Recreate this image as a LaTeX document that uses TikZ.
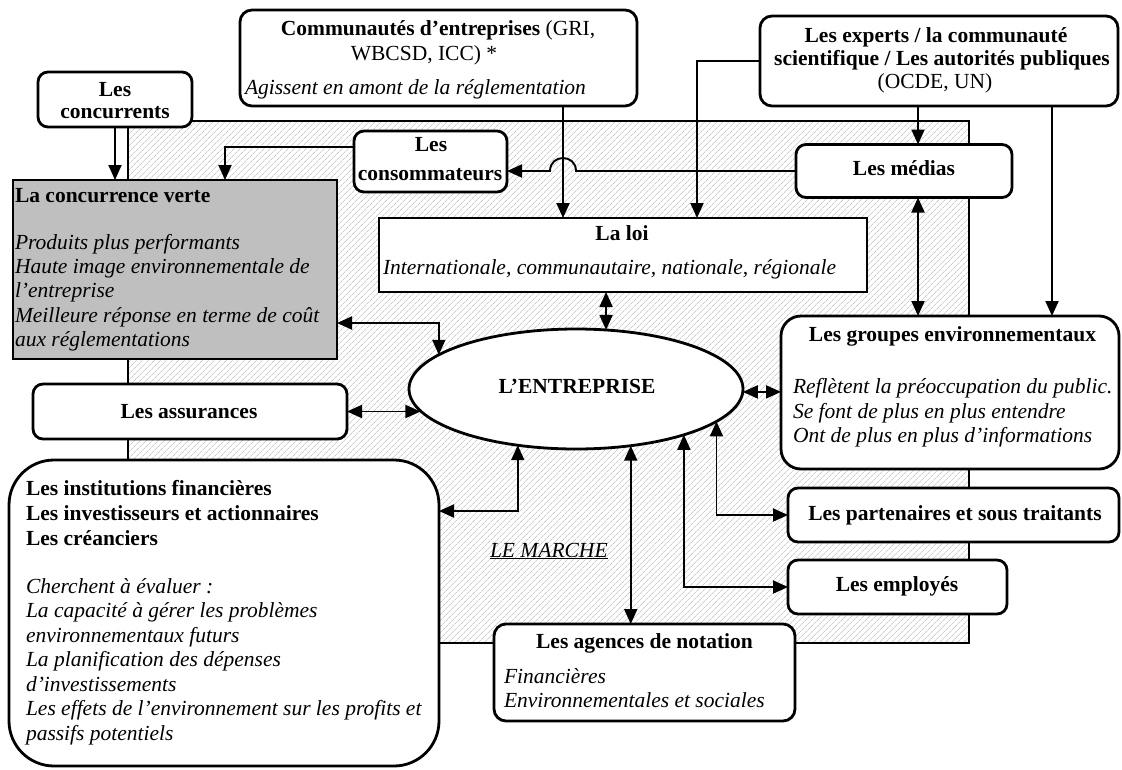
\documentclass[tikz,border=0pt]{standalone}
\usepackage{fontspec}
\setmainfont{Liberation Serif}
\usetikzlibrary{arrows.meta,patterns.meta,shapes.geometric}
\begin{document}
\fontsize{21.5}{24.5}\selectfont
\begin{tikzpicture}[x=1pt,y=-1pt,
  every node/.style={inner sep=0pt,outer sep=0pt},
  box/.style={draw,line width=2.8pt,fill=white,rounded corners=10pt},
  sharpbox/.style={draw,line width=2.8pt,fill=white},
  txt/.style={anchor=base},
  ltxt/.style={anchor=base west},
  tip/.tip={Triangle[length=15pt,width=13pt]},
  conn/.style={line width=1.9pt,-tip},
  dconn/.style={line width=1.9pt,tip-tip}
]
\useasboundingbox (0,0) rectangle (1122,769);

% the market area
\node[draw,line width=2.8pt,minimum width=841,minimum height=522,
      pattern={Lines[angle=45,distance=4pt,line width=0.6pt]},pattern color=black!30]
      (market) at (548.5,382) {};

% boxes
\node[box,minimum width=154,minimum height=55] (conc) at (115,99.5) {};
\node[box,rounded corners=12pt,minimum width=397,minimum height=96] (comm) at (438.5,58) {};
\node[box,rounded corners=12pt,minimum width=358,minimum height=90] (exp) at (939,61) {};
\node[box,minimum width=153,minimum height=61] (cons) at (430.5,161.5) {};
\node[box,minimum width=216,minimum height=53] (med) at (904,171) {};
\node[draw,line width=2.8pt,fill=black!25,minimum width=324,minimum height=179] (verte) at (175,269.5) {};
\node[sharpbox,minimum width=488,minimum height=74] (loi) at (623,255) {};
\node[draw,ellipse,line width=2.8pt,fill=white,minimum width=334,minimum height=120] (ent) at (576,389) {};
\node[box,rounded corners=20pt,minimum width=338,minimum height=153] (grp) at (950,392.5) {};
\node[box,minimum width=314,minimum height=55] (ass) at (190,411.5) {};
\node[box,rounded corners=45pt,minimum width=430,minimum height=306] (fin) at (224,613) {};
\node[box,minimum width=331,minimum height=54] (part) at (953.5,515) {};
\node[box,minimum width=219,minimum height=54] (empl) at (897.5,587) {};
\node[box,rounded corners=12pt,minimum width=301,minimum height=97] (agen) at (644.5,672.5) {};

% texts
\node[txt] (conc-a) at (115,96.7) {\textbf{Les}};
\node[txt] (conc-b) at (115,118.3) {\textbf{concurrents}};
\node[txt] (comm-a) at (438,35) {\textbf{Communautés d’entreprises} (GRI,};
\node[txt] (comm-b) at (424,60.7) {WBCSD, ICC) *};
\node[ltxt] (comm-c) at (245,94.3) {\textit{Agissent en amont de la réglementation}};
\node[txt] (exp-a) at (936,42.7) {\textbf{Les experts / la communauté}};
\node[txt] (exp-b) at (942,65) {\textbf{scientifique / Les autorités publiques}};
\node[txt] (exp-c) at (935,88) {(OCDE, UN)};
\node[txt] (cons-a) at (431,151.7) {\textbf{Les}};
\node[txt] (cons-b) at (430,180) {\textbf{consommateurs}};
\node[txt] (med-a) at (904,175) {\textbf{Les médias}};
\node[ltxt] (verte-a) at (15,202) {\textbf{La concurrence verte}};
\node[ltxt] (verte-b) at (15,249.5) {\textit{Produits plus performants}};
\node[ltxt] (verte-c) at (15,273) {\textit{Haute image environnementale de}};
\node[ltxt] (verte-d) at (15,297.5) {\textit{l’entreprise}};
\node[ltxt] (verte-e) at (15,322) {\textit{Meilleure réponse en terme de coût}};
\node[ltxt] (verte-f) at (15,346.5) {\textit{aux réglementations}};
\node[txt] (loi-a) at (622,240) {\textbf{La loi}};
\node[ltxt] (loi-b) at (383,274) {\textit{Internationale, communautaire, nationale, régionale}};
\node[txt] (ent-a) at (577,393) {\textbf{L’ENTREPRISE}};
\node[txt] (grp-a) at (952.5,341.7) {\textbf{Les groupes environnementaux}};
\node[ltxt] (grp-b) at (793,393.5) {\textit{Reflètent la préoccupation du public.}};
\node[ltxt] (grp-c) at (793,418) {\textit{Se font de plus en plus entendre}};
\node[ltxt] (grp-d) at (793,442.5) {\textit{Ont de plus en plus d’informations}};
\node[txt] (ass-a) at (189,418.3) {\textbf{Les assurances}};
\node[ltxt] (fin-a) at (26,495) {\textbf{Les institutions financières}};
\node[ltxt] (fin-b) at (26,520) {\textbf{Les investisseurs et actionnaires}};
\node[ltxt] (fin-c) at (26,545) {\textbf{Les créanciers}};
\node[ltxt] (fin-d) at (26,593.3) {\textit{Cherchent à évaluer :}};
\node[ltxt] (fin-e) at (26,617.7) {\textit{La capacité à gérer les problèmes}};
\node[ltxt] (fin-f) at (26,642) {\textit{environnementaux futurs}};
\node[ltxt] (fin-g) at (26,666.5) {\textit{La planification des dépenses}};
\node[ltxt] (fin-h) at (26,691) {\textit{d’investissements}};
\node[ltxt] (fin-i) at (26,715.5) {\textit{Les effets de l’environnement sur les profits et}};
\node[ltxt] (fin-j) at (26,740) {\textit{passifs potentiels}};
\node[txt] (part-a) at (955,520) {\textbf{Les partenaires et sous traitants}};
\node[txt] (empl-a) at (897,591.7) {\textbf{Les employés}};
\node[txt] (agen-a) at (644.5,648.3) {\textbf{Les agences de notation}};
\node[ltxt] (agen-b) at (504,683.3) {\textit{Financières}};
\node[ltxt] (agen-c) at (504,707.7) {\textit{Environnementales et sociales}};
\node[ltxt] (marche) at (490,557) {\underline{\textit{LE MARCHE}}};

% connector columns and rows
\coordinate (xc) at (563,0);
\coordinate (xe) at (697,0);
\coordinate (xm) at (918,0);
\coordinate (xg) at (1052,0);
\coordinate (xv) at (225,0);
\coordinate (yc) at (0,147);
\coordinate (yj) at (0,323);
\coordinate (ym) at (0,511);
\coordinate (jr) at (576,171);
\coordinate (jl) at (550,171);

% connectors
\draw[conn] (conc.south) -- (verte.north -| conc.south);
\draw[conn] (cons.west |- yc) -| (verte.north -| xv);
\draw[conn] (med.west) -- (jr) .. controls (576,153.7) and (550,153.7) .. (jl) -- (cons.east |- med.west);
\draw[conn] (comm.south -| xc) -- (loi.north -| xc);
\draw[conn] (exp.west) -| (loi.north -| xe);
\draw[conn] (exp.south -| xm) -- (med.north -| xm);
\draw[conn] (exp.south -| xg) -- (grp.north -| xg);
\draw[dconn] (med.south -| xm) -- (grp.north -| xm);
\draw[dconn] (loi.south -| ent.63) -- (ent.63);
\draw[dconn] (verte.east |- yj) -| (ent.166);
\draw[dconn] (ass.east) -- (ass.east -| ent.188);
\draw[dconn] (ent.359) -- (ent.359 -| grp.west);
\draw[dconn] (fin.east |- ym) -| (ent.224);
\draw[dconn] (ent.314) -- (ent.314 |- agen.north);
\draw[dconn] (ent.337) |- (empl.west);
\draw[dconn] (ent.347) |- (part.west);
\end{tikzpicture}
\end{document}
